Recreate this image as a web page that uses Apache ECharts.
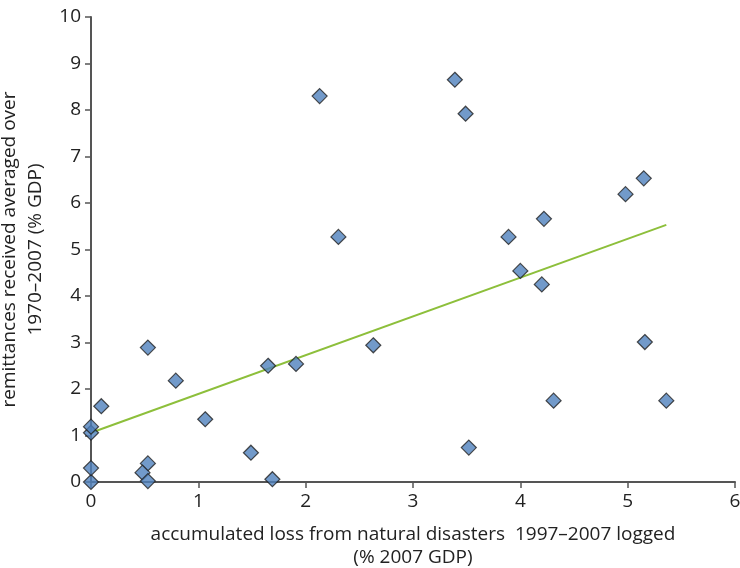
<!DOCTYPE html>
<html><head><meta charset="utf-8">
<script src="https://cdn.jsdelivr.net/npm/echarts@6/dist/echarts.min.js"></script>
<style>html,body{margin:0;padding:0;background:#fff}#c{width:740px;height:568px}</style>
</head><body><div id="c"></div>
<script>
const lossX = [0, 0, 0, 0, 0.096, 0.53, 0.53, 0.48, 0.53, 0.79, 1.064, 1.49, 1.69, 1.65, 1.91, 2.63, 2.305, 2.13, 3.39, 3.49, 3.89, 4.22, 4.98, 5.15, 4.00, 4.20, 5.16, 4.31, 5.36, 3.52];
const remitY = [0, 0.30, 1.06, 1.19, 1.63, 2.89, 0.40, 0.20, 0.02, 2.18, 1.35, 0.63, 0.06, 2.50, 2.54, 2.94, 5.27, 8.30, 8.65, 7.92, 5.27, 5.66, 6.19, 6.53, 4.54, 4.25, 3.01, 1.75, 1.75, 0.74];
const trendX = [0, 5.36];
const trendY = [1.06, 5.53];
const xTicks = [0, 1, 2, 3, 4, 5, 6];
const yTicks = [0, 1, 2, 3, 4, 5, 6, 7, 8, 9, 10];

const font = '"Open Sans", "Noto Sans", sans-serif';
const chart = echarts.init(document.getElementById('c'));
chart.setOption({
  animation: false,
  grid: {left: 91, right: 5, top: 17, bottom: 86, containLabel: false, outerBoundsMode: 'none'},
  xAxis: {
    type: 'value', min: 0, max: 6, interval: 1,
    name: 'accumulated loss from natural disasters  1997–2007 logged\n(% 2007 GDP)',
    nameLocation: 'middle', nameGap: 41,
    nameTextStyle: {fontFamily: font, fontSize: 19, color: '#222', lineHeight: 23},
    axisLine: {lineStyle: {color: '#555', width: 2}},
    axisTick: {show: true, length: 6, lineStyle: {color: '#555', width: 1.5}},
    axisLabel: {fontFamily: font, fontSize: 19, color: '#222', margin: 10,
      formatter: v => xTicks.includes(v) ? String(v) : ''},
    splitLine: {show: false}
  },
  yAxis: {
    type: 'value', min: 0, max: 10, interval: 1,
    name: 'remittances received averaged over\n1970–2007 (% GDP)',
    nameLocation: 'middle', nameGap: 40,
    nameTextStyle: {fontFamily: font, fontSize: 19, color: '#222', lineHeight: 26},
    axisLine: {show: true, lineStyle: {color: '#555', width: 2}},
    axisTick: {show: true, length: 6, lineStyle: {color: '#555', width: 1.5}},
    axisLabel: {fontFamily: font, fontSize: 19, color: '#222', margin: 10,
      formatter: v => yTicks.includes(v) ? String(v) : ''},
    splitLine: {show: false}
  },
  series: [
    {
      type: 'line', data: trendX.map((x, i) => [x, trendY[i]]),
      symbol: 'none', lineStyle: {color: '#8dbf3b', width: 2}, z: 1, silent: true
    },
    {
      type: 'scatter', data: lossX.map((x, i) => [x, remitY[i]]),
      symbol: 'diamond', symbolSize: 15,
      itemStyle: {color: '#4f81bd', borderColor: '#222', borderWidth: 1.2}, z: 2
    }
  ]
});
</script></body></html>
